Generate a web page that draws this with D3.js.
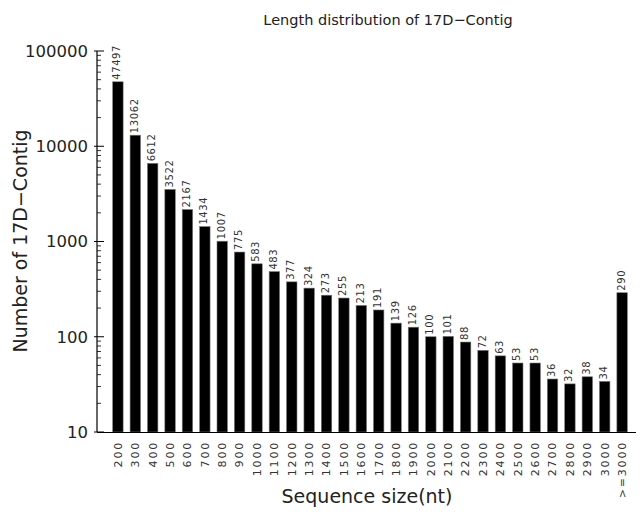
<!doctype html>
<html>
<head>
<meta charset="utf-8">
<style>
  body { margin: 0; background: #fff; }
  text { font-family: "DejaVu Sans", sans-serif; }
</style>
</head>
<body>
<svg width="644" height="516"></svg>
<script src="https://d3js.org/d3.v7.min.js"></script>
<script>
var categories = ["200","300","400","500","600","700","800","900","1000","1100","1200","1300","1400","1500",
  "1600","1700","1800","1900","2000","2100","2200","2300","2400","2500","2600","2700","2800","2900","3000",">=3000"];
var counts = [47497,13062,6612,3522,2167,1434,1007,775,583,483,377,324,273,255,
  213,191,139,126,100,101,88,72,63,53,53,36,32,38,34,290];
var yTicks = [10, 100, 1000, 10000, 100000];

var svg = d3.select("svg");

var x = d3.scaleBand().domain(categories).range([104, 636]).paddingInner(0.4).paddingOuter(0.5);
var y = d3.scaleLog().domain([10, 100000]).range([432, 51]);

// bars
svg.selectAll(".bar")
  .data(counts)
  .enter().append("rect")
    .attr("x", function(d, i) { return x(categories[i]); })
    .attr("y", function(d) { return y(d); })
    .attr("width", x.bandwidth())
    .attr("height", function(d) { return 432 - y(d); })
    .attr("fill", "#000")
    .attr("stroke", "#777")
    .attr("stroke-width", 0.6);

// value labels
svg.selectAll(".val")
  .data(counts)
  .enter().append("text")
    .attr("transform", function(d, i) {
      return "translate(" + (x(categories[i]) + x.bandwidth() / 2 - 1) + "," + (y(d) - 2) + ") rotate(-90)";
    })
    .attr("dy", "0.35em")
    .attr("text-anchor", "start")
    .style("font-size", "10px")
    .style("letter-spacing", "0.6px")
    .attr("fill", "#333")
    .text(function(d) { return d; });

// y axis with minor ticks
var minor = [];
for (var p = 10; p < 100000; p *= 10) {
  for (var k = 2; k <= 9; k++) minor.push(p * k);
}
var yg = svg.append("g").attr("transform", "translate(97,0)");
yg.append("line").attr("x1", 0).attr("x2", 0).attr("y1", y(100000)).attr("y2", 432)
  .attr("stroke", "#000").attr("stroke-width", 1.2);
yg.selectAll(".minor").data(minor).enter().append("line")
  .attr("x1", 0).attr("x2", 4)
  .attr("y1", function(d) { return y(d); }).attr("y2", function(d) { return y(d); })
  .attr("stroke", "#000").attr("stroke-width", 0.8);
yg.selectAll(".major").data(yTicks).enter().append("line")
  .attr("x1", -3).attr("x2", 7)
  .attr("y1", function(d) { return y(d); }).attr("y2", function(d) { return y(d); })
  .attr("stroke", "#000").attr("stroke-width", 1);
yg.selectAll(".ylab").data(yTicks).enter().append("text")
  .attr("x", -9).attr("y", function(d) { return y(d); })
  .attr("dy", "0.35em")
  .attr("text-anchor", "end")
  .style("font-size", "16.5px")
  .attr("fill", "#222")
  .text(function(d) { return d; });

// x axis
svg.append("line").attr("x1", 97).attr("x2", 636).attr("y1", 432.5).attr("y2", 432.5)
  .attr("stroke", "#000").attr("stroke-width", 1.2);
svg.selectAll(".xlab").data(categories).enter().append("text")
  .attr("transform", function(d) {
    return "translate(" + (x(d) + x.bandwidth() / 2) + ",441) rotate(-90)";
  })
  .attr("dy", "0.35em")
  .attr("text-anchor", "end")
  .style("font-size", "11px")
  .style("letter-spacing", "1.8px")
  .attr("fill", "#333")
  .text(function(d) { return d; });

// titles
svg.append("text").attr("x", 388).attr("y", 25).attr("text-anchor", "middle")
  .style("font-size", "14.5px").attr("fill", "#222")
  .text("Length distribution of 17D\u2212Contig");
svg.append("text").attr("x", 367).attr("y", 503).attr("text-anchor", "middle")
  .style("font-size", "19px").attr("fill", "#222")
  .text("Sequence size(nt)");
svg.append("text").attr("transform", "translate(27,241) rotate(-90)").attr("text-anchor", "middle")
  .style("font-size", "19px").attr("fill", "#222")
  .text("Number of 17D\u2212Contig");
</script>
</body>
</html>
